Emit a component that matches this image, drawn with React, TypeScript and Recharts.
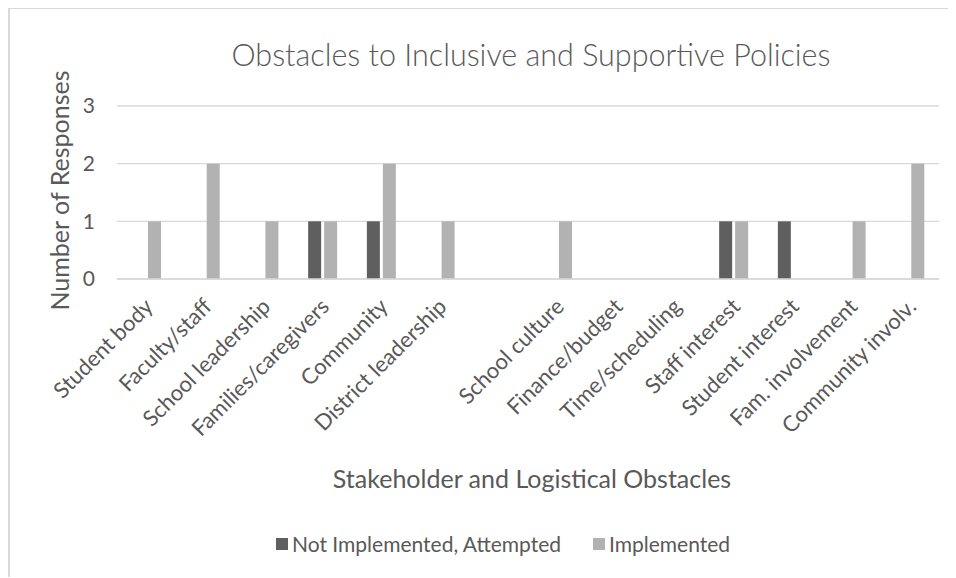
import React from "react";
import { BarChart, Bar, XAxis, YAxis, CartesianGrid, Legend, Label } from "recharts";

const categories = [
  "Student body",
  "Faculty/staff",
  "School leadership",
  "Families/caregivers",
  "Community",
  "District leadership",
  "",
  "School culture",
  "Finance/budget",
  "Time/scheduling",
  "Staff interest",
  "Student interest",
  "Fam. involvement",
  "Community involv.",
];
const notImplementedAttempted = [0, 0, 0, 1, 1, 0, 0, 0, 0, 0, 1, 1, 0, 0];
const implemented = [1, 2, 1, 1, 2, 1, 0, 1, 0, 0, 1, 0, 1, 2];
const yTicks = [0, 1, 2, 3];
const seriesNames = ["Not Implemented, Attempted", "Implemented"];
const seriesColors = ["#5f5f5f", "#b2b2b2"];

const data = categories.map((c, i) => ({
  name: c,
  nia: notImplementedAttempted[i],
  imp: implemented[i],
}));

const FONT = "Lato, 'Noto Sans', sans-serif";
const TEXT = "#595959";

const XTick = (props: any) => {
  const { x, y, payload } = props;
  return (
    <g transform={`translate(${x + 8},${y + 21})`}>
      <text x={0} y={0} textAnchor="end" transform="rotate(-45)" fontSize={22} fill={TEXT} fontFamily={FONT}>
        {payload.value}
      </text>
    </g>
  );
};

const LegendContent = () => (
  <div style={{ display: "flex", alignItems: "center", fontFamily: FONT, fontSize: 21, color: TEXT, whiteSpace: "nowrap" }}>
    {seriesNames.map((n, i) => (
      <div key={n} style={{ display: "flex", alignItems: "center", marginRight: i === 0 ? 32 : 0 }}>
        <span style={{ display: "inline-block", width: 12, height: 12, background: seriesColors[i], marginRight: 4 }} />
        <span>{n}</span>
      </div>
    ))}
  </div>
);

export default function App() {
  return (
    <div
      style={{
        position: "relative",
        width: 948,
        height: 570,
        marginTop: -1,
        borderTop: "2px solid #d9d9d9",
        borderLeft: "2px solid #d9d9d9",
        boxSizing: "border-box",
        background: "#fff",
        fontFamily: FONT,
      }}
    >
      <div
        style={{
          position: "absolute",
          left: 0,
          width: 1042,
          top: 27,
          textAlign: "center",
          fontSize: 30.5,
          color: TEXT,
          fontFamily: FONT,
          fontWeight: 300,
          whiteSpace: "nowrap",
        }}
      >
        Obstacles to Inclusive and Supportive Policies
      </div>
      <div style={{ position: "absolute", left: -2, top: -1 }}>
        <BarChart
          width={948}
          height={570}
          data={data}
          margin={{ top: 98, right: 17, left: 0, bottom: 0 }}
          barGap={3}
          barSize={13}
        >
          <CartesianGrid vertical={false} stroke="#d9d9d9" strokeWidth={1.3} />
          <XAxis
            dataKey="name"
            interval={0}
            height={275}
            axisLine={{ stroke: "#d9d9d9", strokeWidth: 1.3 }}
            tickLine={false}
            tick={<XTick />}
          >
            <Label
              content={(p: any) => {
                const vb = p.viewBox;
                return (
                  <text
                    x={vb.x + vb.width / 2 + 4}
                    y={vb.y + 209}
                    textAnchor="middle"
                    fontSize={25}
                    fill={TEXT}
                    fontFamily={FONT}
                  >
                    Stakeholder and Logistical Obstacles
                  </text>
                );
              }}
            />
          </XAxis>
          <YAxis
            width={109}
            domain={[0, 3]}
            ticks={yTicks}
            axisLine={false}
            tickLine={false}
            tickMargin={16}
            tick={{ fontSize: 21, fill: TEXT, fontFamily: FONT }}
          >
            <Label
              content={(p: any) => {
                const vb = p.viewBox;
                const cx = 51;
                const cy = vb.y + vb.height / 2 - 2;
                return (
                  <text
                    x={cx}
                    y={cy}
                    textAnchor="middle"
                    dominantBaseline="central"
                    transform={`rotate(-90, ${cx}, ${cy})`}
                    fontSize={25}
                    fill={TEXT}
                    fontFamily={FONT}
                  >
                    Number of Responses
                  </text>
                );
              }}
            />
          </YAxis>
          <Legend
            verticalAlign="bottom"
            height={24}
            content={<LegendContent />}
            wrapperStyle={{ left: 268, top: 523, width: "auto", bottom: "auto" }}
          />
          <Bar dataKey="nia" name={seriesNames[0]} fill={seriesColors[0]} isAnimationActive={false} />
          <Bar dataKey="imp" name={seriesNames[1]} fill={seriesColors[1]} isAnimationActive={false} />
        </BarChart>
      </div>
    </div>
  );
}
